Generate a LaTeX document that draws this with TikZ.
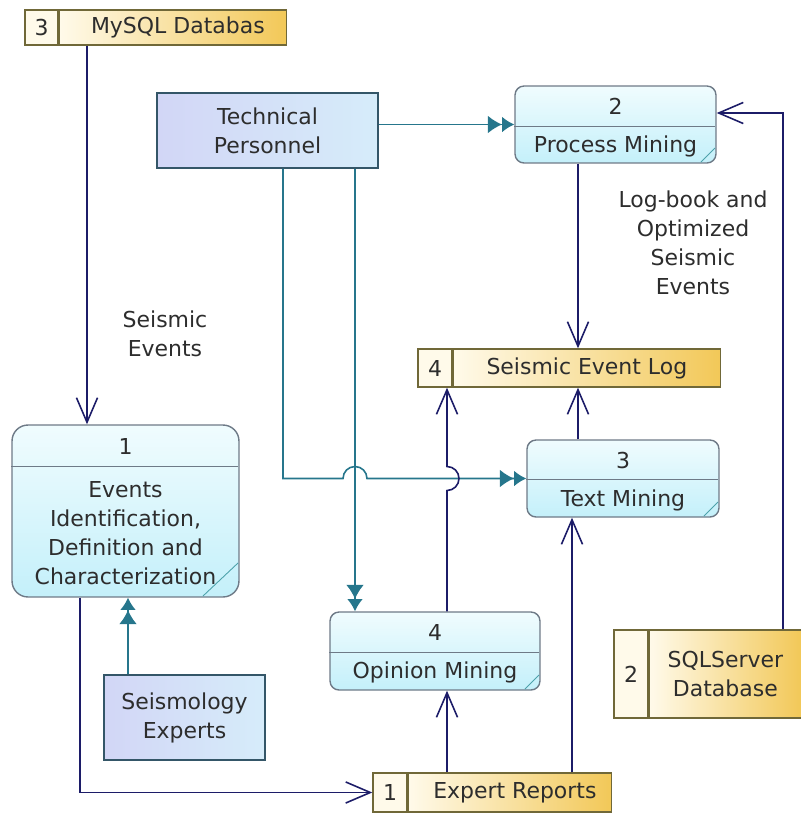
\documentclass[tikz,border=0pt]{standalone}
\usepackage{fontspec}
\setmainfont{DejaVu Sans}
\usetikzlibrary{arrows.meta,positioning,calc}

\definecolor{proctop}{RGB}{240,252,254}
\definecolor{procbot}{RGB}{196,240,250}
\definecolor{procedge}{RGB}{110,122,135}
\definecolor{entleft}{RGB}{210,214,246}
\definecolor{entright}{RGB}{214,236,250}
\definecolor{entedge}{RGB}{52,86,104}
\definecolor{storelite}{RGB}{255,250,234}
\definecolor{storegold}{RGB}{242,200,88}
\definecolor{storeedge}{RGB}{112,104,56}
\definecolor{flowteal}{RGB}{38,118,140}
\definecolor{flownavy}{RGB}{28,28,104}
\definecolor{txtgray}{RGB}{45,45,45}

\tikzset{
  process/.style={draw=procedge, line width=0.8pt, rounded corners=0.18cm,
    top color=proctop, bottom color=procbot, inner sep=0pt},
  entity/.style={draw=entedge, line width=0.9pt, left color=entleft,
    right color=entright, align=center, inner sep=0pt},
  storeid/.style={draw=storeedge, line width=0.8pt, fill=storelite, inner sep=0pt},
  store/.style={draw=storeedge, line width=0.8pt, left color=storelite,
    right color=storegold, align=center, inner sep=0pt},
  tealflow/.style={draw=flowteal, line width=0.9pt,
    -{Latex[length=8pt,width=10pt]Latex[length=7pt,width=9pt]}},
  navyflow/.style={draw=flownavy, line width=0.9pt,
    -{Straight Barb[length=14pt,width=12pt]}},
  divider/.style={draw=procedge, line width=0.8pt},
  slash/.style={draw=procedge!70!cyan, line width=0.5pt}
}

\begin{document}
\begin{tikzpicture}[x=0.02cm, y=0.02cm, font=\fontsize{12.5}{16.5}\selectfont, text=txtgray]
\useasboundingbox (0,0) rectangle (801,-819);

% processes
\node[process, rounded corners=0.32cm, minimum width=4.54cm, minimum height=3.44cm] (p1) at (125.5,-511) {};
\node[process, minimum width=4.02cm, minimum height=1.54cm] (p2) at (615.5,-124.5) {};
\node[process, minimum width=3.84cm, minimum height=1.54cm] (p3) at (623,-478.5) {};
\node[process, minimum width=4.2cm, minimum height=1.56cm] (p4) at (435,-651) {};

\draw[divider] (p1.north west) ++(0,-42) -- ++(227,0);
\draw[divider] (p2.north west) ++(0,-41) -- ++(201,0);
\draw[divider] (p3.north west) ++(0,-40) -- ++(192,0);
\draw[divider] (p4.north west) ++(0,-41) -- ++(210,0);

\draw[slash] (203,-596) -- (238,-563);
\draw[slash] (701,-162) -- (715,-148);
\draw[slash] (704,-516) -- (718,-502);
\draw[slash] (525,-689) -- (539,-675);

\node (p1n) at (125.5,-446) {1};
\node[align=center] (p1t) at (125.5,-533) {Events\\Identification,\\Definition and\\Characterization};
\node (p2n) at (615.5,-106) {2};
\node (p2t) at (615.5,-146) {Process Mining};
\node (p3n) at (623,-460) {3};
\node (p3t) at (623,-500) {Text Mining};
\node (p4n) at (435,-632) {4};
\node (p4t) at (435,-672) {Opinion Mining};

% external entities
\node[entity, minimum width=4.42cm, minimum height=1.5cm] (tp) at (267.5,-130.5) {Technical\\Personnel};
\node[entity, minimum width=3.22cm, minimum height=1.7cm] (se) at (184.5,-717.5) {Seismology\\Experts};

% data stores
\node[storeid, minimum width=0.66cm, minimum height=0.7cm] (ms-id) at (41.5,-27.5) {3};
\node[store, minimum width=4.54cm, minimum height=0.7cm, right=0pt of ms-id] (ms) {\hspace{0.2cm}MySQL Databas};
\node[storeid, minimum width=0.68cm, minimum height=0.76cm] (sel-id) at (435,-368) {4};
\node[store, minimum width=5.34cm, minimum height=0.76cm, right=0pt of sel-id] (sel) {Seismic Event Log};
\node[storeid, minimum width=0.68cm, minimum height=1.76cm] (sql-id) at (631,-674) {2};
\node[store, minimum width=3.04cm, minimum height=1.76cm, right=0pt of sql-id] (sql) {SQLServer\\Database};
\node[storeid, minimum width=0.68cm, minimum height=0.78cm] (er-id) at (390,-792.5) {1};
\node[store, minimum width=4.06cm, minimum height=0.78cm, right=0pt of er-id] (er) {\hspace{0.2cm}Expert Reports};

% flow labels
\node[align=center] (lbl1) at (165,-334) {Seismic\\Events};
\node[align=center] (lbl2) at (693,-243) {Log-book and\\Optimized\\Seismic\\Events};

% connector positions
\coordinate (xa) at (87,0);
\coordinate (xb) at (355,0);
\coordinate (xc) at (283,0);
\coordinate (xd) at (447,0);
\coordinate (xe) at (578,0);
\coordinate (xf) at (572,0);
\coordinate (xg) at (783,0);
\coordinate (yh) at (0,-113);
\coordinate (xi) at (80,0);
\coordinate (xj) at (128,0);

% flows
\draw[navyflow] (ms.south -| xa) -- (p1.north -| xa);
\draw[tealflow] (tp.east |- p2.west) -- (p2.west);
\draw[tealflow] (tp.south -| xb) -- (p4.north -| xb);
\draw[tealflow] (tp.south -| xc) -- (xc |- p3.west)
  -- ($(xb |- p3.west)+(-12,0)$) arc[start angle=180, end angle=0, radius=12]
  -- (p3.west);
\draw[navyflow] (p4.north -| xd) -- ($(xd |- p3.west)+(0,-12)$)
  arc[start angle=-90, end angle=90, radius=12] -- (sel.south -| xd);
\draw[navyflow] (p2.south -| xe) -- (sel.north -| xe);
\draw[navyflow] (p3.north -| xe) -- (sel.south -| xe);
\draw[navyflow] (er.north -| xf) -- (p3.south -| xf);
\draw[navyflow] (er.north -| xd) -- (p4.south -| xd);
\draw[navyflow] (sql.north -| xg) -- (xg |- yh) -- (p2.east |- yh);
\draw[navyflow] (p1.south -| xi) -- (xi |- er-id.west) -- (er-id.west);
\draw[tealflow] (se.north -| xj) -- (p1.south -| xj);

\end{tikzpicture}
\end{document}
